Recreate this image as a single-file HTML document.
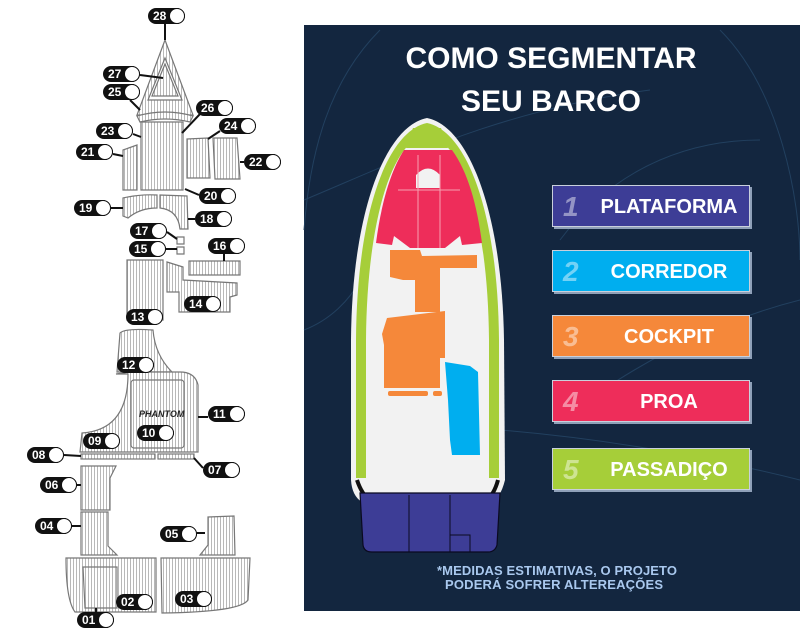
<!DOCTYPE html>
<html><head><meta charset="utf-8"><style>
body{margin:0;background:#fff;width:800px;height:637px;overflow:hidden;position:relative;font-family:"Liberation Sans",sans-serif}
.p{position:absolute;height:16px;width:37px;background:#111;border-radius:8px;color:#fff;font-weight:bold;font-size:12px;line-height:16px;box-sizing:border-box;padding-left:5px}
.p:after{content:"";position:absolute;right:0;top:0;width:16px;height:16px;border-radius:50%;background:#fff;border:1.5px solid #111;box-sizing:border-box}
.btn{position:absolute;left:552px;width:198px;height:42px;border:1px solid #c9d0dc;box-shadow:2px 2px 0 #8fa0b8;color:#fff;font-weight:bold;font-size:20px;line-height:42px;box-sizing:border-box}
.btn b{position:absolute;left:10px;top:0;font-size:28px;opacity:.45;font-style:italic}
.btn span{position:absolute;left:36px;right:0;text-align:center}
</style></head><body>
<svg width="800" height="637" style="position:absolute;left:0;top:0">
<defs>
<pattern id="h" width="3" height="10" patternUnits="userSpaceOnUse"><rect width="3" height="10" fill="#fff"/><line x1="1.5" y1="0" x2="1.5" y2="10" stroke="#9a9a9a" stroke-width="0.7"/></pattern>
</defs>
<g fill="url(#h)" stroke="#777" stroke-width="1.2">
<path d="M165,40 L193,115 L137,115 Z"/>
<path d="M165,58 L182,100 L148,100 Z" fill="#fff"/>
<path d="M165,64 L178,96 L152,96 Z"/>
<path d="M137,116 Q165,108 193,116 L190,122 Q165,116 140,122 Z"/>
<path d="M141,122 L183,122 L183,190 L141,190 Z"/>
<path d="M123,150 L137,145 L137,190 L123,190 Z"/>
<path d="M187,139 L208,138 L210,178 L187,178 Z"/>
<path d="M213,138 L237,138 L240,179 L215,179 Z"/>
<path d="M123,198 Q140,194 157,195 L157,208 Q140,208 128,218 L123,216 Z"/>
<path d="M160,195 L187,196 L188,229 L180,229 Q178,210 160,208 Z"/>
<path d="M177,237 L184,237 L184,244 L177,244 Z" fill="#fff"/>
<path d="M177,247 L184,247 L184,254 L177,254 Z" fill="#fff"/>
<path d="M189,261 L240,261 L240,275 L189,275 Z"/>
<path d="M167,262 L183,267 L183,280 L237,283 L237,295 L230,297 L230,312 L179,312 L179,292 L167,292 Z"/>
<path d="M127,260 L163,260 L163,320 L127,320 Z"/>
<path d="M120,333 Q125,328 153,330 Q155,355 172,372 L117,372 Z"/>
<path d="M116,374 L128,374 Q128,430 82,433 L80,452 L198,452 L198,385 Q195,372 180,372 L130,372 Z" />
<rect x="131" y="380" width="53" height="68" rx="3"/>
<rect x="81" y="454" width="74" height="5"/><rect x="158" y="454" width="36" height="5"/>
<path d="M81,466 L116,466 L110,478 L110,510 L81,510 Z"/>
<path d="M81,512 L108,512 L108,546 L117,555 L81,555 Z"/>
<path d="M208,517 L234,516 L235,555 L200,555 L208,545 Z"/>
<path d="M66,558 L156,558 L156,612 L75,612 Q66,600 66,558 Z"/>
<path d="M83,567 L117,567 L117,608 L85,608 Z"/>
<path d="M161,558 L250,558 L248,600 Q240,612 162,613 Z"/>
</g>
<text x="139" y="417" font-size="9" font-style="italic" font-weight="bold" fill="#222" font-family="Liberation Sans">PHANTOM</text>
<g stroke="#111" stroke-width="2">
<line x1="165" y1="24" x2="165" y2="40"/><line x1="140" y1="75" x2="163" y2="78"/><line x1="130" y1="100" x2="140" y2="110"/>
<line x1="200" y1="114" x2="182" y2="133"/><line x1="220" y1="131" x2="208" y2="139"/><line x1="133" y1="134" x2="141" y2="137"/>
<line x1="113" y1="154" x2="123" y2="156"/><line x1="240" y1="162" x2="244" y2="162"/><line x1="185" y1="189" x2="199" y2="195"/>
<line x1="111" y1="208" x2="123" y2="208"/><line x1="188" y1="219" x2="195" y2="219"/><line x1="167" y1="232" x2="177" y2="239"/>
<line x1="166" y1="249" x2="177" y2="249"/><line x1="224" y1="254" x2="224" y2="261"/><line x1="198" y1="417" x2="208" y2="417"/>
<line x1="64" y1="455" x2="81" y2="456"/><line x1="194" y1="458" x2="203" y2="468"/><line x1="77" y1="485" x2="81" y2="485"/>
<line x1="72" y1="526" x2="81" y2="526"/><line x1="197" y1="533" x2="205" y2="533"/><line x1="96" y1="608" x2="96" y2="613"/>
</g>
<rect x="304" y="25" width="496" height="586" fill="#13263f"/>
<g fill="none" stroke="#22405f" stroke-width="1">
<path d="M304,200 C400,160 500,110 650,90"/><path d="M380,30 C330,80 310,150 304,230"/><path d="M720,30 C780,90 800,200 800,260"/>
<path d="M560,240 C620,160 700,140 760,140"/><path d="M560,420 C640,360 720,320 800,300"/><path d="M500,430 C620,440 720,460 800,480"/>
<path d="M304,330 C330,320 350,300 360,280"/>
</g>
<path d="M427,118 C468,126 502,210 504,340 L505,480 Q500,500 490,502 L362,502 Q352,496 351,480 L351,340 C352,210 386,126 427,118 Z" fill="#f2f2f2"/>
<path d="M427,123 C466,131 498,210 499,340 L499,478 L489,478 L489,340 C488,220 462,140 427,134 C392,140 367,220 366,340 L366,478 L356,478 L356,340 C357,210 388,131 427,123Z" fill="#a6ce39"/>
<path d="M413,128 L441,128 L448,148 L406,148Z" fill="#a6ce39"/>
<path d="M404,150 L452,150 C468,172 477,205 482,243 L462,245 L460,236 L445,248 L410,248 L394,236 L392,245 L376,243 C381,205 390,172 404,150Z" fill="#ee2d5a"/>
<path d="M416,175 Q428,162 440,175 L440,188 L416,188Z" fill="#f2f2f2"/>
<g stroke="#f5a0b0" stroke-width="1" fill="none"><path d="M418,155 L418,248"/><path d="M440,155 L440,248"/><path d="M398,190 L460,190"/></g>
<path d="M390,250 L420,250 L422,256 L477,255 L477,268 L440,268 L440,312 L415,312 L415,280 L403,280 L390,277 Z" fill="#f5883a"/>
<path d="M387,318 L445,311 L445,358 L440,358 L440,388 L384,388 L384,345 L382,334 Z" fill="#f5883a"/>
<rect x="388" y="391" width="40" height="5" rx="2" fill="#f5883a"/><rect x="433" y="391" width="9" height="5" rx="2" fill="#f5883a"/>
<path d="M445,362 L470,366 L478,372 L480,455 L452,455 L450,440 L448,400 Z" fill="#00aeef"/>
<path d="M357,480 Q362,495 370,500" stroke="#111" stroke-width="4" fill="none"/><path d="M498,480 Q494,495 486,500" stroke="#111" stroke-width="4" fill="none"/>
<path d="M360,493 L500,493 L497,545 Q495,552 488,552 L372,552 Q364,552 363,545 Z" fill="#3d3d96" stroke="#0a0a20" stroke-width="1.2"/>
<g stroke="#0a0a20" stroke-width="1"><line x1="409" y1="495" x2="409" y2="552"/><line x1="450" y1="495" x2="450" y2="552"/><path d="M450,535 L470,535 L470,552" fill="none"/></g>
<text x="551" y="68" text-anchor="middle" font-size="30" font-weight="bold" fill="#fff" font-family="Liberation Sans">COMO SEGMENTAR</text>
<text x="551" y="111" text-anchor="middle" font-size="30" font-weight="bold" fill="#fff" font-family="Liberation Sans">SEU BARCO</text>
<text x="557" y="575" text-anchor="middle" font-size="13" font-weight="bold" fill="#a9c8ee" font-family="Liberation Sans" textLength="240">*MEDIDAS ESTIMATIVAS, O PROJETO</text>
<text x="554" y="589" text-anchor="middle" font-size="13" font-weight="bold" fill="#a9c8ee" font-family="Liberation Sans" textLength="218">PODERÁ SOFRER ALTEREAÇÕES</text>
</svg>
<div class="btn" style="top:185px;background:#3d3d96"><b>1</b><span>PLATAFORMA</span></div>
<div class="btn" style="top:250px;background:#00aeef"><b>2</b><span>CORREDOR</span></div>
<div class="btn" style="top:315px;background:#f5883a"><b>3</b><span>COCKPIT</span></div>
<div class="btn" style="top:380px;background:#ee2d5a"><b>4</b><span>PROA</span></div>
<div class="btn" style="top:448px;background:#a6ce39"><b>5</b><span>PASSADIÇO</span></div>
<div class="p" style="left:148px;top:8px">28</div>
<div class="p" style="left:103px;top:66px">27</div>
<div class="p" style="left:103px;top:84px">25</div>
<div class="p" style="left:196px;top:100px">26</div>
<div class="p" style="left:219px;top:118px">24</div>
<div class="p" style="left:96px;top:123px">23</div>
<div class="p" style="left:76px;top:144px">21</div>
<div class="p" style="left:244px;top:154px">22</div>
<div class="p" style="left:199px;top:188px">20</div>
<div class="p" style="left:74px;top:200px">19</div>
<div class="p" style="left:195px;top:211px">18</div>
<div class="p" style="left:130px;top:223px">17</div>
<div class="p" style="left:129px;top:241px">15</div>
<div class="p" style="left:208px;top:238px">16</div>
<div class="p" style="left:184px;top:296px">14</div>
<div class="p" style="left:126px;top:309px">13</div>
<div class="p" style="left:117px;top:357px">12</div>
<div class="p" style="left:208px;top:406px">11</div>
<div class="p" style="left:137px;top:425px">10</div>
<div class="p" style="left:83px;top:433px">09</div>
<div class="p" style="left:27px;top:447px">08</div>
<div class="p" style="left:203px;top:462px">07</div>
<div class="p" style="left:40px;top:477px">06</div>
<div class="p" style="left:35px;top:518px">04</div>
<div class="p" style="left:160px;top:526px">05</div>
<div class="p" style="left:116px;top:594px">02</div>
<div class="p" style="left:175px;top:591px">03</div>
<div class="p" style="left:77px;top:612px">01</div>
</body></html>
